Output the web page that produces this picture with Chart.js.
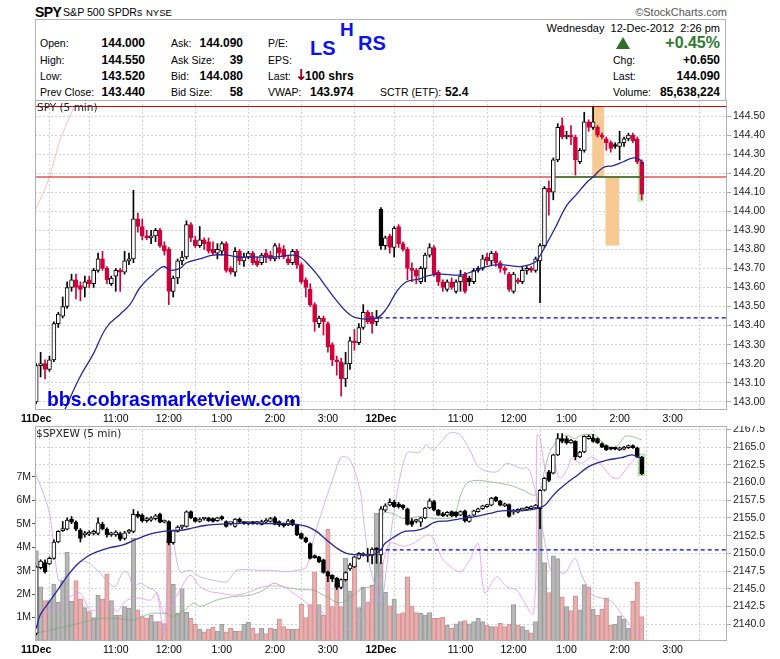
<!DOCTYPE html>
<html><head><meta charset="utf-8">
<script src="https://cdn.jsdelivr.net/npm/chart.js@4.4.0/dist/chart.umd.min.js"></script>
<style>
body{margin:0;background:#fff;width:780px;height:659px;overflow:hidden;font-family:"Liberation Sans",Arial,sans-serif;position:relative;}
.t{position:absolute;white-space:nowrap;line-height:14px;height:14px;font-size:10.5px;color:#000;z-index:5;}
.b{font-weight:bold;font-size:12px;}
#box{position:absolute;left:35px;top:19px;width:691px;height:81px;border:1px solid #b4b4b4;border-bottom:none;box-sizing:border-box;}
canvas{position:absolute;left:0;}
.lbl{position:absolute;font-family:"DejaVu Sans",sans-serif;font-size:10.5px;color:#222;z-index:5;white-space:nowrap;}
</style></head><body>
<div id="box"></div>
<div class="t" style="left:35px;top:3px;height:18px;line-height:18px;font-size:14px;font-weight:bold;letter-spacing:-0.6px;">SPY</div>
<div class="t" style="left:63px;top:5px;font-size:10.6px;">S&amp;P 500 SPDRs</div>
<div class="t" style="left:146px;top:5.5px;font-size:9.5px;">NYSE</div>
<div class="t" style="right:53px;top:5px;font-size:11px;color:#555;">&copy;StockCharts.com</div>

<div class="t" style="left:40px;top:36px;">Open:</div><div class="t b" style="right:635px;top:36px;">144.000</div>
<div class="t" style="left:40px;top:53px;">High:</div><div class="t b" style="right:635px;top:53px;">144.550</div>
<div class="t" style="left:40px;top:69px;">Low:</div><div class="t b" style="right:635px;top:69px;">143.520</div>
<div class="t" style="left:40px;top:85px;">Prev Close:</div><div class="t b" style="right:635px;top:85px;">143.440</div>

<div class="t" style="left:171px;top:36px;">Ask:</div><div class="t b" style="right:537px;top:36px;">144.090</div>
<div class="t" style="left:171px;top:53px;">Ask Size:</div><div class="t b" style="right:537px;top:53px;">39</div>
<div class="t" style="left:171px;top:69px;">Bid:</div><div class="t b" style="right:537px;top:69px;">144.080</div>
<div class="t" style="left:171px;top:85px;">Bid Size:</div><div class="t b" style="right:537px;top:85px;">58</div>

<div class="t" style="left:268px;top:36px;">P/E:</div>
<div class="t" style="left:268px;top:53px;">EPS:</div>
<div class="t" style="left:268px;top:69px;">Last:</div>
<div class="t" style="left:295px;top:67px;height:16px;line-height:16px;font-family:'DejaVu Sans',sans-serif;font-size:15px;font-weight:bold;color:#8a0022;">&#8595;</div>
<div class="t b" style="left:305px;top:69px;">100 shrs</div>
<div class="t" style="left:268px;top:85px;">VWAP:</div><div class="t b" style="left:310px;top:85px;">143.974</div>
<div class="t" style="left:380px;top:85px;">SCTR (ETF):</div><div class="t b" style="left:445px;top:85px;">52.4</div>

<div class="t" style="left:310px;top:38px;height:21px;line-height:21px;font-size:20px;font-weight:bold;color:#0a14e6;">LS</div>
<div class="t" style="left:340px;top:19px;height:21px;line-height:21px;font-size:19px;font-weight:bold;color:#0a14e6;">H</div>
<div class="t" style="left:358px;top:33px;height:21px;line-height:21px;font-size:20px;font-weight:bold;color:#0a14e6;">RS</div>

<div class="t" style="right:60px;top:21px;font-size:11px;">Wednesday&nbsp;&nbsp;12-Dec-2012&nbsp;&nbsp;2:26 pm</div>
<div style="position:absolute;left:616px;top:37px;width:0;height:0;border-left:7px solid transparent;border-right:7px solid transparent;border-bottom:12px solid #2f6e2f;"></div>
<div class="t" style="right:60px;top:34px;height:18px;line-height:18px;font-size:16px;font-weight:bold;color:#2f7a2f;">+0.45%</div>
<div class="t" style="left:613px;top:53px;">Chg:</div><div class="t b" style="right:60px;top:53px;">+0.650</div>
<div class="t" style="left:613px;top:69px;">Last:</div><div class="t b" style="right:60px;top:69px;">144.090</div>
<div class="t" style="left:613px;top:85px;">Volume:</div><div class="t b" style="right:60px;top:85px;">85,638,224</div>

<canvas id="c1" width="780" height="326" style="top:100px;width:780px;height:326px;"></canvas>
<canvas id="c2" width="780" height="233" style="top:426px;width:780px;height:233px;"></canvas>

<div class="lbl" style="left:37px;top:101px;">SPY (5 min)</div>
<div class="lbl" style="left:36px;top:427px;">$SPXEW (5 min)</div>
<div class="t" style="left:47px;top:388px;height:23px;line-height:23px;font-size:19.4px;font-weight:bold;color:#0000ee;">bbs.cobrasmarketview.com</div>

<script>
// ---------- tick labels ----------
const hourTicks  = [0, 6, 18, 30, 42, 54, 66, 78, 84, 96, 108, 120, 132, 144];
const hourLabels = ['11Dec', '', '11:00', '12:00', '1:00', '2:00', '3:00', '12Dec', '', '11:00', '12:00', '1:00', '2:00', '3:00'];
const spyTicks = [143.0,143.1,143.2,143.3,143.4,143.5,143.6,143.7,143.8,143.9,144.0,144.1,144.2,144.3,144.4,144.5];
const ewTicks  = [2140.0,2142.5,2145.0,2147.5,2150.0,2152.5,2155.0,2157.5,2160.0,2162.5,2165.0,2167.5];
const volTicks = [1,2,3,4,5,6,7];

// ---------- SPY 5-min candles (bar index 0 = 9:30 on 11 Dec) ----------
const spyO = [143.00,143.19,143.20,143.17,143.22,143.41,143.45,143.50,143.60,143.64,143.61,143.60,143.64,143.62,143.69,143.75,143.70,143.62,143.66,143.69,143.68,143.74,143.75,143.96,143.92,143.87,143.86,143.87,143.90,143.82,143.80,143.58,143.65,143.74,143.76,143.93,143.85,143.82,143.85,143.84,143.80,143.78,143.79,143.83,143.70,143.68,143.79,143.74,143.76,143.78,143.74,143.73,143.78,143.77,143.75,143.81,143.80,143.75,143.73,143.79,143.72,143.64,143.59,143.51,143.41,143.44,143.41,143.30,143.22,143.21,143.12,143.20,143.32,143.31,143.39,143.47,143.45,143.42,
144.01,143.82,143.87,143.81,143.92,143.83,143.80,143.70,143.69,143.63,143.70,143.77,143.81,143.68,143.63,143.59,143.63,143.58,143.63,143.67,143.65,143.63,143.69,143.70,143.76,143.74,143.78,143.73,143.70,143.67,143.58,143.64,143.63,143.69,143.70,143.69,143.74,143.82,144.12,144.10,144.27,144.45,144.39,144.40,144.39,144.26,144.32,144.47,144.44,144.44,144.40,144.38,144.36,144.35,144.34,144.36,144.38,144.40,144.38,144.26];
const spyH = [143.20,143.26,143.22,143.24,143.42,143.47,143.55,143.63,143.67,143.67,143.63,143.66,143.66,143.70,143.78,143.79,143.71,143.66,143.70,143.70,143.79,143.78,144.11,143.99,143.96,143.90,143.90,143.91,143.91,143.84,143.81,143.66,143.75,143.79,143.95,143.94,143.87,143.92,143.86,143.86,143.84,143.83,143.84,143.84,143.71,143.81,143.80,143.78,143.79,143.79,143.76,143.78,143.80,143.79,143.83,143.83,143.82,143.77,143.80,143.80,143.73,143.65,143.62,143.52,143.45,143.45,143.42,143.31,143.24,143.23,143.26,143.34,143.38,143.41,143.51,143.48,143.47,143.48,
144.02,143.87,143.88,143.92,143.93,143.84,143.81,143.73,143.70,143.71,143.78,143.83,143.82,143.69,143.64,143.64,143.65,143.64,143.69,143.68,143.66,143.70,143.71,143.77,143.78,143.79,143.79,143.74,143.71,143.68,143.68,143.65,143.71,143.71,143.71,143.76,143.83,144.13,144.16,144.28,144.46,144.49,144.42,144.45,144.40,144.33,144.52,144.48,144.55,144.45,144.41,144.39,144.37,144.36,144.42,144.39,144.41,144.41,144.39,144.27];
const spyL = [142.99,143.13,143.12,143.16,143.21,143.39,143.44,143.49,143.58,143.54,143.53,143.55,143.60,143.60,143.68,143.69,143.62,143.61,143.58,143.58,143.67,143.72,143.73,143.89,143.85,143.85,143.83,143.84,143.81,143.77,143.51,143.55,143.62,143.72,143.75,143.84,143.81,143.81,143.80,143.78,143.77,143.75,143.77,143.68,143.67,143.66,143.72,143.71,143.75,143.72,143.71,143.72,143.73,143.74,143.74,143.75,143.75,143.72,143.72,143.70,143.62,143.55,143.50,143.37,143.39,143.35,143.26,143.19,143.14,143.03,143.08,143.17,143.27,143.30,143.38,143.41,143.36,143.40,
143.80,143.80,143.78,143.76,143.81,143.79,143.64,143.63,143.62,143.62,143.63,143.76,143.66,143.61,143.58,143.58,143.59,143.57,143.58,143.57,143.61,143.62,143.68,143.69,143.72,143.72,143.71,143.68,143.67,143.58,143.57,143.62,143.62,143.67,143.68,143.68,143.52,143.81,143.98,144.06,144.26,144.38,144.38,144.35,144.19,144.25,144.31,144.42,144.43,144.39,144.38,144.32,144.31,144.33,144.27,144.34,144.37,144.36,144.25,144.06];
const spyC = [143.19,143.20,143.17,143.22,143.41,143.46,143.50,143.60,143.64,143.60,143.59,143.63,143.62,143.69,143.75,143.70,143.64,143.65,143.69,143.68,143.74,143.75,143.96,143.92,143.87,143.86,143.87,143.90,143.82,143.79,143.58,143.65,143.74,143.76,143.93,143.86,143.82,143.85,143.83,143.79,143.78,143.80,143.83,143.69,143.68,143.79,143.74,143.76,143.78,143.73,143.72,143.77,143.76,143.75,143.82,143.78,143.76,143.73,143.79,143.72,143.63,143.60,143.51,143.42,143.44,143.42,143.29,143.22,143.21,143.12,143.20,143.32,143.31,143.39,143.47,143.42,143.41,143.44,
143.82,143.86,143.81,143.91,143.83,143.80,143.70,143.69,143.66,143.70,143.77,143.81,143.67,143.63,143.60,143.63,143.60,143.63,143.66,143.58,143.63,143.69,143.70,143.75,143.74,143.78,143.73,143.70,143.69,143.59,143.67,143.63,143.69,143.70,143.69,143.75,143.82,144.12,144.10,144.27,144.44,144.39,144.40,144.39,144.27,144.32,144.47,144.44,144.47,144.40,144.39,144.36,144.33,144.34,144.36,144.38,144.40,144.37,144.26,144.09];

// SPY moving average
const spyMaX = [6.5,9.9,12.9,15.9,19,21.2,23.5,26.5,28.8,30.3,32.5,34,37,40,43,46,49,53.6,58.2,59.7,61.2,63.5,65.7,68,70.3,72.5,77,79.3,81.6,83.8,86.8,88.3,91.4,95.9,98.9,101.9,104.9,107.2,109.4,111.7,113.2,115.5,117.8,120,122.3,124.5,126,128.3,130.6,132.8,135.1,136.6,137.2];
const spyMaY = [142.96,143.13,143.25,143.39,143.46,143.51,143.60,143.67,143.71,143.69,143.70,143.73,143.75,143.77,143.77,143.76,143.76,143.76,143.77,143.76,143.73,143.67,143.60,143.53,143.47,143.44,143.44,143.49,143.58,143.63,143.645,143.66,143.67,143.665,143.685,143.71,143.72,143.715,143.71,143.72,143.74,143.83,143.93,144.03,144.09,144.15,144.18,144.23,144.24,144.26,144.28,144.27,144.25];
// faint overlay at the top-left of the SPY panel
const spyFadeX = [-0.3, 2.7, 5.5, 8.8];
const spyFadeY = [144.00, 144.16, 144.38, 144.56];

// price levels
const spyHigh = 144.55, spyLevel = 144.18, spyPrevClose = 143.44;
const levelStart = 117.5, levelEnd = 137, prevCloseStart = 77.5;
// highlighted zones [x0, x1, y0, y1]
const spyZones = [[125.8, 128.5, 144.18, 144.55], [128.8, 131.9, 143.82, 144.18]];
const spyLastZone = [136.1, 137.5, 144.05, 144.26];

// ---------- $SPXEW candles ----------
const ewO = [2138.7,2148.0,2148.7,2148.5,2149.3,2151.6,2153.2,2153.4,2154.8,2154.4,2153.3,2152.6,2152.7,2152.8,2152.8,2154.1,2153.4,2152.6,2152.6,2152.8,2152.1,2153.0,2153.1,2155.5,2155.4,2154.6,2154.7,2154.9,2155.5,2154.4,2154.5,2151.5,2153.1,2153.7,2153.8,2155.9,2155.0,2154.5,2154.85,2155.0,2154.9,2154.6,2155.2,2154.5,2154.2,2153.8,2154.85,2154.4,2154.2,2154.3,2154.2,2154.1,2154.4,2154.5,2155.0,2154.5,2154.2,2154.0,2154.7,2154.0,2152.8,2152.2,2151.4,2149.7,2149.5,2149.1,2147.4,2146.9,2146.5,2145.2,2146.3,2147.8,2148.1,2149.3,2149.7,2149.6,2149.7,2150.6,
2149.8,2156.1,2156.8,2157.2,2157.0,2156.8,2156.3,2154.6,2154.5,2154.4,2155.0,2156.4,2157.3,2156.1,2155.6,2155.4,2155.9,2155.8,2155.4,2156.0,2154.5,2155.4,2155.9,2156.3,2156.6,2156.8,2157.9,2157.4,2156.7,2156.9,2155.8,2155.8,2156.1,2156.2,2156.3,2156.4,2156.3,2158.9,2161.5,2161.3,2163.9,2166.2,2166.2,2165.6,2165.8,2163.6,2164.3,2166.2,2166.3,2166.2,2165.5,2165.2,2164.9,2164.9,2164.6,2164.7,2164.9,2165.2,2164.9,2163.6];
const ewH = [2148.2,2149.1,2149.1,2149.5,2151.9,2153.2,2154.5,2155.0,2155.2,2154.6,2153.5,2153.1,2153.2,2153.3,2155.0,2154.4,2153.6,2153.0,2153.2,2153.0,2153.1,2153.4,2156.2,2155.9,2155.6,2155.1,2155.2,2155.5,2155.7,2154.7,2154.6,2153.3,2153.9,2154.0,2156.0,2156.0,2155.1,2155.0,2155.1,2155.1,2155.0,2155.1,2155.3,2154.6,2154.4,2154.9,2155.0,2154.5,2154.4,2154.5,2154.5,2154.7,2154.9,2155.1,2155.2,2154.6,2154.3,2154.8,2154.8,2154.1,2152.9,2152.3,2151.5,2149.8,2149.6,2149.2,2147.5,2147.0,2146.6,2146.4,2147.4,2148.6,2149.6,2150.1,2150.1,2150.7,2150.8,2150.8,
2156.6,2157.0,2157.7,2157.5,2157.2,2156.9,2156.4,2154.9,2154.8,2155.1,2156.5,2157.7,2157.5,2156.2,2155.8,2155.9,2156.0,2155.9,2156.0,2156.1,2155.4,2156.1,2156.4,2156.8,2156.9,2157.9,2158.0,2157.5,2157.1,2157.0,2156.2,2156.3,2156.4,2156.6,2156.7,2156.9,2159.0,2160.7,2161.7,2164.0,2166.9,2166.9,2166.5,2166.1,2165.9,2164.4,2166.6,2166.7,2166.8,2166.3,2165.6,2165.3,2165.0,2165.0,2165.0,2165.1,2165.3,2165.3,2165.0,2163.7];
const ewL = [2138.5,2147.8,2147.2,2148.4,2149.2,2151.5,2153.1,2153.3,2154.2,2153.2,2151.6,2152.3,2152.5,2152.6,2152.6,2153.3,2152.3,2152.4,2152.4,2151.8,2151.9,2152.8,2152.9,2155.0,2154.4,2154.4,2154.5,2154.7,2154.3,2154.3,2151.2,2151.3,2153.0,2153.5,2153.7,2154.9,2154.4,2154.4,2154.7,2154.5,2154.4,2154.5,2154.7,2153.7,2154.0,2153.7,2154.3,2154.1,2154.0,2154.1,2154.1,2154.0,2154.3,2154.4,2154.0,2153.8,2153.7,2153.9,2153.9,2152.5,2152.0,2151.5,2149.2,2149.3,2148.7,2147.2,2146.0,2146.0,2144.9,2145.0,2146.1,2147.6,2148.0,2149.2,2149.6,2148.8,2148.5,2148.6,
2148.6,2155.9,2156.7,2156.5,2156.4,2156.2,2154.0,2153.8,2154.3,2153.8,2154.9,2156.3,2156.0,2155.3,2155.2,2155.2,2155.2,2155.1,2155.3,2154.4,2154.4,2155.3,2155.8,2156.2,2156.5,2156.7,2157.3,2156.7,2156.6,2155.1,2155.5,2155.7,2156.0,2156.1,2156.2,2156.3,2153.5,2158.8,2160.1,2161.2,2163.8,2165.6,2165.4,2165.5,2163.2,2163.5,2164.2,2166.1,2165.7,2165.5,2164.9,2164.5,2164.6,2164.6,2164.5,2164.6,2164.8,2164.8,2163.5,2161.1];
const ewC = [2148.1,2148.9,2147.4,2149.3,2151.6,2153.1,2153.5,2154.7,2154.4,2153.4,2152.1,2152.8,2153.0,2153.1,2154.3,2153.5,2152.6,2152.8,2153.0,2152.0,2152.9,2153.2,2155.5,2155.2,2154.6,2154.9,2155.0,2155.3,2154.4,2154.5,2151.5,2153.2,2153.7,2153.8,2155.85,2155.0,2154.5,2154.85,2155.0,2154.6,2154.5,2155.0,2154.85,2153.8,2154.3,2154.85,2154.4,2154.2,2154.3,2154.2,2154.4,2154.5,2154.7,2154.9,2154.1,2154.0,2153.9,2154.6,2154.0,2152.6,2152.1,2151.6,2149.3,2149.4,2148.8,2147.3,2146.8,2146.4,2145.2,2146.3,2147.3,2148.4,2149.5,2150.0,2149.8,2149.8,2150.6,2150.5,
2156.3,2156.7,2157.2,2156.6,2156.6,2156.4,2154.1,2154.1,2154.7,2155.0,2156.4,2157.4,2156.1,2155.4,2155.3,2155.8,2155.3,2155.3,2155.9,2154.6,2155.3,2156.0,2156.3,2156.7,2156.8,2157.8,2157.4,2156.8,2157.0,2155.2,2156.1,2156.2,2156.3,2156.5,2156.6,2156.8,2158.9,2160.6,2160.3,2163.9,2166.2,2165.8,2165.6,2166.0,2163.6,2164.3,2166.5,2166.5,2165.8,2165.6,2165.0,2164.6,2164.7,2164.7,2164.9,2165.0,2165.2,2164.9,2163.6,2161.2];

const ewMaX = [0,0.9,2.4,4.6,6.9,9.2,11.4,13.7,16.7,19.7,22.7,25.7,28.8,31,33.3,35.5,37.8,40.8,44.6,48.4,52.1,55.9,58.9,61.2,63.4,65.7,67.9,70.2,72.5,74.8,76.6,78.1,78.9,81.2,83.4,85.7,87.9,90.2,93.2,96.3,99.3,102.3,105.3,108.3,111.3,113.6,115.1,116.6,118.1,120.4,122.6,124.9,127.2,129.4,132.4,134.7,136.2,137];
const ewMaY = [2139.4,2141.3,2142.7,2144.6,2146.7,2148.4,2149.5,2150.2,2150.8,2151.2,2152.0,2152.7,2153.1,2153.2,2153.3,2153.6,2153.9,2154.1,2154.2,2154.3,2154.2,2154.2,2154.1,2153.8,2153.1,2151.9,2150.8,2150.0,2149.8,2149.8,2149.9,2150.6,2151.4,2152.4,2153.1,2153.2,2153.6,2154.4,2154.6,2154.9,2155.2,2155.6,2156.0,2156.0,2156.1,2156.4,2156.8,2157.9,2158.9,2160.1,2161.1,2162.2,2162.8,2163.2,2163.5,2163.9,2163.6,2163.4];

const lavX = [-0.3,1.6,3.1,5.0,6.1,7.6,9.9,11.4,13.7,15.9,17.8,19.7,20.8,22.0,23.5,25.0,27.3,28.8,30.6,32.5,34.8,37.1,40.1,43.1,45.4,50.6,53.7,56.7,59.7,61.2,62.7,65.0,66.9,69.1,71.0,73.3,74.0,75.5,77.0,78.0,80.8,83.8,86.8,88.3,89.8,93.6,95.9,98.1,100.4,104.2,106.4,108.7,109.8,111.3,112.5,113.6,115.5,116.6,118.1,119.6,121.9,123.4,125.7,127.9,130.2,132.5,134.3,136.2,137.4];
const lavY = [2161.5,2158.5,2155.4,2146.2,2146.5,2147.2,2148.8,2148.8,2147.7,2146.2,2145.3,2147.4,2147.2,2145.3,2145.8,2145.3,2144.4,2138.7,2152.8,2147.4,2147.6,2146.7,2146.2,2146.0,2147.6,2147.6,2147.6,2147.4,2147.7,2148.1,2151.9,2156.6,2160.1,2163.6,2163.2,2158.9,2155.2,2148.1,2144.8,2142.5,2155.2,2164.1,2164.3,2165.3,2164.6,2167.0,2166.7,2164.6,2162.0,2161.5,2162.7,2162.2,2162.0,2162.0,2159.9,2156.8,2150.2,2147.4,2147.4,2147.2,2149.3,2147.0,2144.2,2143.7,2143.2,2141.4,2139.9,2138.5,2139.9];
const pinkX = [0.9,3.1,5.4,7.7,9.9,12.2,14.4,16.7,18.2,20.5,23.5,25.8,27.3,29.1,32.5,34.8,37.1,39.3,41.6,44.6,47.6,51.4,55.9,58.2,60.4,62.7,64.2,66.5,68.7,70.2,72.5,74.8,76.3,77.8,80.0,83.1,85.3,89.1,92.1,95.9,98.1,100.0,101.5,104.2,106.4,108.7,112.5,113.3,114.0,114.7,115.9,117.0,118.5,120.4,121.1,123.4,125.7,127.9,130.2,131.7,133.6,135.5,136.6];
const pinkY = [2141.5,2141.8,2142.5,2143.9,2144.4,2142.0,2142.2,2143.0,2141.8,2143.4,2143.7,2143.4,2144.4,2141.5,2144.8,2146.9,2145.3,2144.6,2144.4,2144.1,2144.4,2145.3,2145.3,2144.4,2143.4,2142.2,2142.0,2140.1,2138.5,2139.2,2140.4,2142.5,2143.4,2146.7,2151.4,2151.0,2151.4,2152.6,2149.1,2147.4,2149.1,2151.4,2144.4,2146.7,2145.3,2144.8,2141.5,2166.7,2166.2,2163.4,2160.3,2162.9,2160.6,2162.2,2163.4,2162.7,2163.6,2162.5,2160.8,2160.6,2162.0,2163.4,2163.6];
const greenX = [-0.3,6.9,14.4,18.2,22.0,25.8,29.5,31.0,34.0,35.6,37.1,40.8,44.6,48.4,51.4,53.7,55.9,59.7,62.7,65.7,68.7,71.7,74.0,76.3,77.3,78.5,80.8,83.1,86.8,90.6,94.4,95.9,97.4,99.6,102.7,107.2,110.2,112.5,114.0,115.1,116.6,119.6,121.9,123.4,126.4,127.9,130.2,131.7,133.2,134.7,137.0];
const greenY = [2138.7,2139.7,2140.8,2140.8,2140.6,2141.5,2141.5,2141.1,2142.2,2143.0,2142.5,2143.4,2143.9,2144.1,2144.8,2145.8,2145.3,2144.9,2144.8,2143.9,2143.0,2144.1,2145.1,2145.5,2149.5,2155.6,2155.6,2154.9,2155.2,2154.9,2155.2,2158.0,2159.9,2160.3,2160.1,2159.6,2158.9,2158.2,2158.7,2162.0,2164.8,2166.7,2166.2,2166.7,2166.7,2165.8,2164.8,2165.3,2166.5,2166.5,2166.0];

const ewPrevClose = 2150.5;
const ewLastZone = [136.2, 137.6, 2161.0, 2164.0];

// ---------- volume (millions) ----------
const volM = [3.85,2.31,1.72,1.72,2.43,1.66,2.58,3.78,1.69,2.58,1.80,1.43,1.26,1.00,1.95,1.80,2.87,1.72,1.09,1.11,1.47,1.40,4.38,1.33,1.04,0.97,1.09,0.83,0.83,0.74,4.31,2.43,1.18,2.24,1.22,0.97,0.71,0.51,0.39,0.51,0.59,0.42,0.71,0.39,0.54,0.42,0.42,0.71,0.80,0.54,0.32,0.54,0.32,0.54,0.50,0.94,0.61,0.51,0.51,0.51,1.57,1.00,1.55,2.95,1.55,1.09,4.77,1.47,2.43,1.47,3.53,2.14,3.34,1.43,2.29,1.66,2.37,5.46,
3.34,2.08,1.50,1.79,1.16,1.21,2.74,1.50,1.21,1.18,1.11,1.21,0.97,0.97,1.01,0.68,0.54,0.73,0.83,0.87,0.73,0.83,0.97,0.83,0.68,0.61,0.61,0.75,0.61,0.72,1.55,0.68,0.61,0.47,0.35,0.83,6.22,3.34,2.07,3.63,3.51,1.88,1.47,1.30,1.93,1.33,2.41,2.31,1.36,1.11,1.36,1.83,0.68,0.72,1.07,0.93,0.54,1.69,2.51,1.04];

// ---------- drawing ----------
const FONT = '"Liberation Sans", Arial, sans-serif';
Chart.defaults.font.family = FONT;
Chart.defaults.font.size = 10.5;
Chart.defaults.color = '#111';
const xMin = -0.27, xMax = 156.3;
const RED = '#d2003a', BLK = '#000000';
const pts = (xs, ys) => xs.map((x, k) => ({x, y: ys[k]}));

function zeroPad(s){ s.paddingTop = 0; s.paddingBottom = 0; s.paddingLeft = 0; s.paddingRight = 0; }
const setTicks = arr => s => { s.ticks = arr.map(v => ({value: v})); };

function xAxis(h){
  return {
    type: 'linear', min: xMin, max: xMax, offset: false,
    afterBuildTicks: setTicks(hourTicks),
    ticks: {autoSkip: false, maxRotation: 0, minRotation: 0, padding: 3, color: '#000',
      callback: (v, i) => hourLabels[i],
      font: ctx => ({family: FONT, size: 10.5, weight: (hourLabels[ctx.index] || '').indexOf('Dec') >= 0 ? 'bold' : 'normal'})},
    grid: {color: '#d2d2d2', drawTicks: false, lineWidth: 1},
    border: {display: false, dash: [2, 2]},
    afterFit: s => { s.height = h; zeroPad(s); }
  };
}

const framePlugin = {
  id: 'frame',
  afterDraw(chart){
    const a = chart.chartArea, c = chart.ctx;
    c.save(); c.strokeStyle = '#b0b0b0'; c.lineWidth = 1;
    c.strokeRect(Math.round(a.left) + 0.5, Math.round(a.top) + 0.5, Math.round(a.right - a.left) - 1, Math.round(a.bottom - a.top) - 1);
    c.restore();
  }
};
function zonePlugin(zones){
  return {
    id: 'zones',
    beforeDatasetsDraw(chart){
      const xs = chart.scales.x, ys = chart.scales.y, c = chart.ctx, a = chart.chartArea;
      c.save(); c.beginPath(); c.rect(a.left, a.top, a.right - a.left, a.bottom - a.top); c.clip();
      zones.forEach(z => {
        const x0 = xs.getPixelForValue(z.r[0]), x1 = xs.getPixelForValue(z.r[1]);
        const y0 = ys.getPixelForValue(z.r[3]), y1 = ys.getPixelForValue(z.r[2]);
        c.fillStyle = z.fill; c.fillRect(x0, y0, x1 - x0, y1 - y0);
        if (z.stroke){ c.strokeStyle = z.stroke; c.lineWidth = 1; c.strokeRect(x0, y0, x1 - x0, y1 - y0); }
      });
      c.restore();
    }
  };
}

function candleSets(O, H, L, C, colorByPrev, order){
  const lineCol = C.map((c, i) => (colorByPrev && i > 0 && c < C[i - 1]) ? RED : BLK);
  const fillCol = C.map((c, i) => c < O[i] ? lineCol[i] : '#ffffff');
  const idx = C.map((_, i) => i);
  return [
    {type: 'bar', yAxisID: 'y', order: order + 1, grouped: false, barThickness: 1,
     data: idx.map(i => ({x: i, y: [L[i], H[i]]})), backgroundColor: lineCol, borderWidth: 0, minBarLength: 1},
    {type: 'bar', yAxisID: 'y', order: order, grouped: false, barThickness: 4,
     data: idx.map(i => ({x: i, y: [Math.min(O[i], C[i]), Math.max(O[i], C[i])]})),
     backgroundColor: fillCol, borderColor: lineCol, borderWidth: 1, borderSkipped: false, minBarLength: 2}
  ];
}
function lineSet(data, color, width, order, extra){
  return Object.assign({type: 'line', yAxisID: 'y', data, borderColor: color, borderWidth: width,
    pointRadius: 0, fill: false, tension: 0, order}, extra || {});
}

// ---- chart 1: SPY ----
new Chart(document.getElementById('c1'), {
  type: 'bar',
  data: {datasets: [
    lineSet(pts(spyMaX, spyMaY), '#26269c', 1.3, 0, {tension: 0.4}),
    lineSet([{x: levelStart, y: spyLevel}, {x: levelEnd, y: spyLevel}], '#2a7a2a', 1.4, 1),
    ...candleSets(spyO, spyH, spyL, spyC, true, 2),
    lineSet([{x: xMin, y: spyHigh}, {x: xMax, y: spyHigh}], '#dd0000', 1.2, 6),
    lineSet([{x: xMin, y: spyLevel}, {x: xMax, y: spyLevel}], '#dd0000', 1.2, 6),
    lineSet([{x: prevCloseStart, y: spyPrevClose}, {x: xMax, y: spyPrevClose}], '#0000cc', 1.2, 6, {borderDash: [4, 3]}),
    lineSet(pts(spyFadeX, spyFadeY), 'rgba(240,170,170,0.75)', 1, 7, {tension: 0.3})
  ]},
  options: {
    responsive: false, animation: false, events: [],
    layout: {padding: {left: 35, right: 0, top: 0, bottom: 0}},
    plugins: {legend: {display: false}, tooltip: {enabled: false}},
    scales: {
      x: xAxis(16),
      y: {position: 'right', min: 142.957, max: 144.584,
        afterBuildTicks: setTicks(spyTicks),
        ticks: {autoSkip: false, padding: 2, color: '#222', callback: v => v.toFixed(2)},
        grid: {color: '#d2d2d2', tickLength: 4, tickColor: '#aaaaaa'},
        border: {display: false, dash: [2, 2]},
        afterFit: s => { s.width = 53; zeroPad(s); }}
    }
  },
  plugins: [framePlugin, zonePlugin([
    {r: spyZones[0], fill: '#f9c994'}, {r: spyZones[1], fill: '#f9c994'},
    {r: spyLastZone, fill: '#bff0ae'}])]
});

// ---- chart 2: $SPXEW + volume ----
const volUp = spyC.map((c, i) => i === 0 || c >= spyC[i - 1]);
new Chart(document.getElementById('c2'), {
  type: 'bar',
  data: {datasets: [
    lineSet([{x: prevCloseStart, y: ewPrevClose}, {x: xMax, y: ewPrevClose}], '#0000dd', 1.2, 0, {borderDash: [4, 3]}),
    lineSet(pts(ewMaX, ewMaY), '#26269c', 1.3, 1, {tension: 0.4}),
    ...candleSets(ewO, ewH, ewL, ewC, false, 2),
    lineSet(pts(lavX, lavY), 'rgba(190,160,235,0.75)', 1, 5, {tension: 0.3}),
    lineSet(pts(pinkX, pinkY), 'rgba(238,140,225,0.75)', 1, 5, {tension: 0.3}),
    lineSet(pts(greenX, greenY), 'rgba(120,170,120,0.7)', 1, 5, {tension: 0.3}),
    {type: 'bar', yAxisID: 'yv', order: 9, grouped: false, barPercentage: 1, categoryPercentage: 1,
     data: volM.map((v, i) => ({x: i, y: v})),
     backgroundColor: volUp.map(u => u ? 'rgba(180,180,180,0.95)' : 'rgba(232,172,172,0.95)'),
     borderColor: volUp.map(u => u ? '#9c9c9c' : '#d69292'), borderWidth: 1, borderSkipped: 'bottom'}
  ]},
  options: {
    responsive: false, animation: false, events: [],
    layout: {padding: {left: 0, right: 0, top: 0, bottom: 0}},
    plugins: {legend: {display: false}, tooltip: {enabled: false}},
    scales: {
      x: xAxis(18),
      y: {position: 'right', min: 2137.64, max: 2167.97,
        afterBuildTicks: setTicks(ewTicks),
        ticks: {autoSkip: false, padding: 2, color: '#222', callback: v => v.toFixed(1)},
        grid: {color: '#d2d2d2', tickLength: 4, tickColor: '#aaaaaa'},
        border: {display: false, dash: [2, 2]},
        afterFit: s => { s.width = 53; zeroPad(s); }},
      yv: {position: 'left', min: 0, max: 9.17,
        afterBuildTicks: setTicks(volTicks),
        ticks: {autoSkip: false, padding: 1, color: '#222', callback: v => v + 'M'},
        grid: {drawOnChartArea: false, tickLength: 3, color: '#555'},
        border: {display: false},
        afterFit: s => { s.width = 35; zeroPad(s); }}
    }
  },
  plugins: [framePlugin, zonePlugin([{r: ewLastZone, fill: 'rgba(190,240,170,0.6)', stroke: '#9fe08a'}])]
});
</script>
</body></html>
